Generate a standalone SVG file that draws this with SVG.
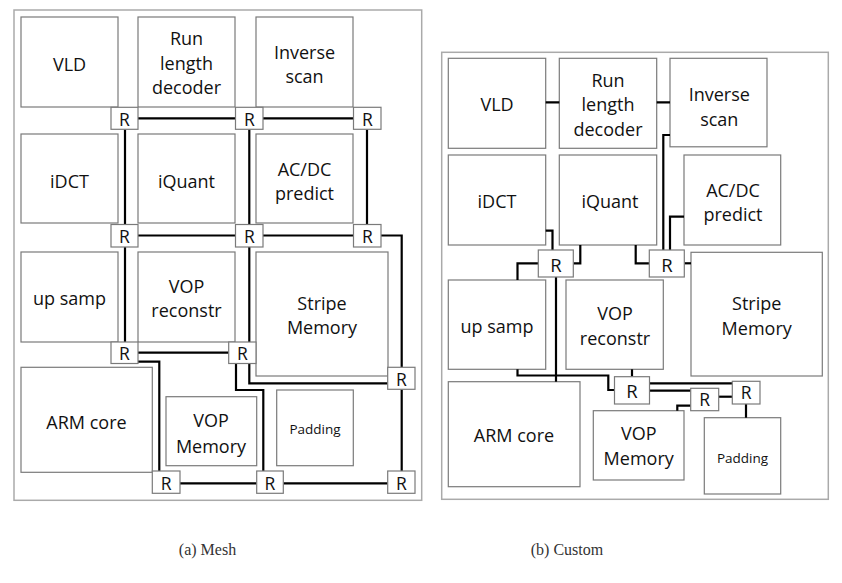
<svg xmlns="http://www.w3.org/2000/svg" width="842" height="583" viewBox="0 0 842 583">
<style>
.bg{fill:#fff}
.frame{fill:none;stroke:#aaa;stroke-width:1.5}
.box{fill:#fff;stroke:#7a7a7a;stroke-width:1.2}
.rbox{fill:#fff;stroke:#7a7a7a;stroke-width:1.2}
.wire{fill:none;stroke:#000;stroke-width:2.2;stroke-linejoin:miter}
.t{font-family:"Open Sans","Liberation Sans",sans-serif;font-size:18px;text-anchor:middle;fill:#111}
.ts{font-family:"Open Sans","Liberation Sans",sans-serif;font-size:13.5px;text-anchor:middle;fill:#111}
.tr{font-family:"Open Sans","Liberation Sans",sans-serif;font-size:17.5px;text-anchor:middle;fill:#111}
.trb{font-family:"Open Sans","Liberation Sans",sans-serif;font-size:18.5px;text-anchor:middle;fill:#111}
.cap{font-family:"Liberation Serif","DejaVu Serif",serif;font-size:16px;text-anchor:middle;fill:#333}
</style>
<rect class="bg" x="0" y="0" width="842" height="583"/>

<!-- Panel (a) Mesh -->
<g id="panel-a">
<rect class="frame" x="14" y="10" width="407.7" height="490.3"/>
<g id="a-vld"><rect class="box" x="21" y="17" width="97" height="90"/><text class="t" x="69.5" y="70.7">VLD</text></g>
<g id="a-rld"><rect class="box" x="138" y="17" width="97" height="90"/><text class="t" x="186.5" y="45">Run</text><text class="t" x="186.5" y="69.5">length</text><text class="t" x="186.5" y="94">decoder</text></g>
<g id="a-is"><rect class="box" x="256" y="17" width="97" height="90"/><text class="t" x="304.5" y="58.5">Inverse</text><text class="t" x="304.5" y="82.5">scan</text></g>
<g id="a-idct"><rect class="box" x="21" y="134" width="97" height="89"/><text class="t" x="69.5" y="187.7">iDCT</text></g>
<g id="a-iq"><rect class="box" x="138" y="134" width="97" height="89"/><text class="t" x="186.5" y="187.7">iQuant</text></g>
<g id="a-acdc"><rect class="box" x="256" y="134" width="97" height="89"/><text class="t" x="304.5" y="175.7">AC/DC</text><text class="t" x="304.5" y="200">predict</text></g>
<g id="a-up"><rect class="box" x="21" y="252" width="97" height="90"/><text class="t" x="69.5" y="305">up samp</text></g>
<g id="a-vopr"><rect class="box" x="138" y="252" width="97" height="90"/><text class="t" x="186.5" y="293.3">VOP</text><text class="t" x="186.5" y="317.3">reconstr</text></g>
<g id="a-stripe"><rect class="box" x="256" y="252" width="132" height="124"/><text class="t" x="322" y="310">Stripe</text><text class="t" x="322" y="334">Memory</text></g>
<g id="a-arm"><rect class="box" x="21" y="367.3" width="131.3" height="105"/><text class="t" x="86.5" y="429">ARM core</text></g>
<g id="a-vopm"><rect class="box" x="166" y="396.7" width="90.7" height="69"/><text class="t" x="211" y="426.7">VOP</text><text class="t" x="211" y="452.7">Memory</text></g>
<g id="a-pad"><rect class="box" x="276.7" y="390" width="76.6" height="75.7"/><text class="ts" x="315" y="434">Padding</text></g>

<g id="a-connectors">
<path class="wire" d="M138,118.3 H235.5 M263,118.3 H353.5"/>
<path class="wire" d="M138,235.5 H235.5 M263,235.5 H353.5"/>
<path class="wire" d="M125,129.3 V224.5 M249.3,129.3 V224.5 M367,129.3 V224.5"/>
<path class="wire" d="M381,235.5 H401.7 V367.3"/>
<path class="wire" d="M401.7,389.3 V471"/>
<path class="wire" d="M125,247 V342"/>
<path class="wire" d="M249.3,247 V342"/>
<path class="wire" d="M138,352.7 H228.7"/>
<path class="wire" d="M138,361.7 H159.3 V471"/>
<path class="wire" d="M236,363.3 V390 H263.3 V471"/>
<path class="wire" d="M249.3,363.3 V383.3 H387.7"/>
<path class="wire" d="M180,483.3 H256.7 M283.3,483.3 H387.7"/>
</g>

<g id="a-r1"><rect class="rbox" x="111" y="107.3" width="27" height="22"/><text class="tr" x="124.5" y="125.8">R</text></g>
<g id="a-r2"><rect class="rbox" x="235.5" y="107.3" width="27.5" height="22"/><text class="tr" x="249.3" y="125.8">R</text></g>
<g id="a-r3"><rect class="rbox" x="353.5" y="107.3" width="27.5" height="22"/><text class="tr" x="367.3" y="125.8">R</text></g>
<g id="a-r4"><rect class="rbox" x="111" y="224.5" width="27" height="22.5"/><text class="tr" x="124.5" y="243.3">R</text></g>
<g id="a-r5"><rect class="rbox" x="235.5" y="224.5" width="27.5" height="22.5"/><text class="tr" x="249.3" y="243.3">R</text></g>
<g id="a-r6"><rect class="rbox" x="353.5" y="224.5" width="27.5" height="22.5"/><text class="tr" x="367.3" y="243.3">R</text></g>
<g id="a-r7"><rect class="rbox" x="111" y="342" width="27" height="21.5"/><text class="tr" x="124.5" y="360">R</text></g>
<g id="a-r8"><rect class="rbox" x="228.7" y="342" width="27.3" height="21.5"/><text class="tr" x="242.3" y="360">R</text></g>
<g id="a-r9"><rect class="rbox" x="387.7" y="367.3" width="27.3" height="22"/><text class="tr" x="401.3" y="385.8">R</text></g>
<g id="a-r10"><rect class="rbox" x="152.3" y="471" width="27.7" height="22.3"/><text class="tr" x="166.2" y="489.8">R</text></g>
<g id="a-r11"><rect class="rbox" x="256.7" y="471" width="26.6" height="22.3"/><text class="tr" x="270" y="489.8">R</text></g>
<g id="a-r12"><rect class="rbox" x="387.7" y="471" width="27.3" height="22.3"/><text class="tr" x="401.3" y="489.8">R</text></g>
</g>

<!-- Panel (b) Custom -->
<g id="panel-b">
<rect class="frame" x="441.7" y="52.3" width="386.6" height="447"/>
<g id="b-vld"><rect class="box" x="448.3" y="58.3" width="97.4" height="90"/><text class="t" x="497" y="110.7">VLD</text></g>
<g id="b-rld"><rect class="box" x="559.3" y="58.3" width="97.4" height="90"/><text class="t" x="608" y="87">Run</text><text class="t" x="608" y="111">length</text><text class="t" x="608" y="135.5">decoder</text></g>
<g id="b-is"><rect class="box" x="670" y="58.3" width="97" height="88.5"/><text class="t" x="719.3" y="101">Inverse</text><text class="t" x="719.3" y="126">scan</text></g>
<g id="b-idct"><rect class="box" x="448.3" y="155" width="97.4" height="90"/><text class="t" x="497" y="208.3">iDCT</text></g>
<g id="b-iq"><rect class="box" x="559.3" y="155" width="97.4" height="90"/><text class="t" x="610" y="208.3">iQuant</text></g>
<g id="b-acdc"><rect class="box" x="684" y="155" width="96.7" height="90"/><text class="t" x="733" y="196.7">AC/DC</text><text class="t" x="733" y="221">predict</text></g>
<g id="b-up"><rect class="box" x="448.3" y="280" width="97.4" height="89.3"/><text class="t" x="497" y="333.3">up samp</text></g>
<g id="b-vopr"><rect class="box" x="566" y="280" width="97.3" height="89.3"/><text class="t" x="615" y="320">VOP</text><text class="t" x="615" y="345">reconstr</text></g>
<g id="b-stripe"><rect class="box" x="691" y="252.3" width="131.3" height="123.7"/><text class="t" x="756.7" y="310">Stripe</text><text class="t" x="756.7" y="335">Memory</text></g>
<g id="b-arm"><rect class="box" x="448.3" y="381.7" width="131.7" height="105"/><text class="t" x="514" y="441.7">ARM core</text></g>
<g id="b-vopm"><rect class="box" x="593.3" y="410.7" width="90.7" height="69.3"/><text class="t" x="638.7" y="440">VOP</text><text class="t" x="638.7" y="465">Memory</text></g>
<g id="b-pad"><rect class="box" x="704.3" y="417.7" width="76.4" height="76.3"/><text class="ts" x="742.5" y="462.7">Padding</text></g>

<g id="b-connectors">
<path class="wire" d="M545.7,102.3 H559.3 M656.7,102.3 H670"/>
<path class="wire" d="M545.7,230.7 H552.5 V250"/>
<path class="wire" d="M580.3,245 V263.3 H573.3"/>
<path class="wire" d="M538.3,263.3 H517.5 V280"/>
<path class="wire" d="M556,277 V381.7"/>
<path class="wire" d="M517.5,369.3 V375.5 H608.3 V390 H614.5"/>
<path class="wire" d="M632,369.3 V376.7"/>
<path class="wire" d="M635.7,245 V263.3 H649.3"/>
<path class="wire" d="M670,135 H663.3 V250"/>
<path class="wire" d="M684,216.7 H670 V250"/>
<path class="wire" d="M684.3,263.3 H691"/>
<path class="wire" d="M649.5,383.3 H732.3"/>
<path class="wire" d="M649.5,390.7 H690.7"/>
<path class="wire" d="M718.7,396.7 H732.3"/>
<path class="wire" d="M746,404 V417.7"/>
<path class="wire" d="M690.7,405.7 H677.3 V410.7"/>
</g>

<g id="b-r1"><rect class="rbox" x="538.3" y="250" width="35" height="27"/><text class="trb" x="556" y="271.5">R</text></g>
<g id="b-r2"><rect class="rbox" x="649.3" y="250" width="35" height="27"/><text class="trb" x="667" y="271.5">R</text></g>
<g id="b-r3"><rect class="rbox" x="614.5" y="376.7" width="35" height="27.3"/><text class="trb" x="632" y="397.7">R</text></g>
<g id="b-r4"><rect class="rbox" x="690.7" y="388.3" width="28" height="22.4"/><text class="tr" x="704.7" y="405.7">R</text></g>
<g id="b-r5"><rect class="rbox" x="732.3" y="381.3" width="27.7" height="22.7"/><text class="tr" x="746.2" y="399.3">R</text></g>
</g>

<text class="cap" x="207.5" y="555">(a) Mesh</text>
<text class="cap" x="567" y="555">(b) Custom</text>
</svg>
